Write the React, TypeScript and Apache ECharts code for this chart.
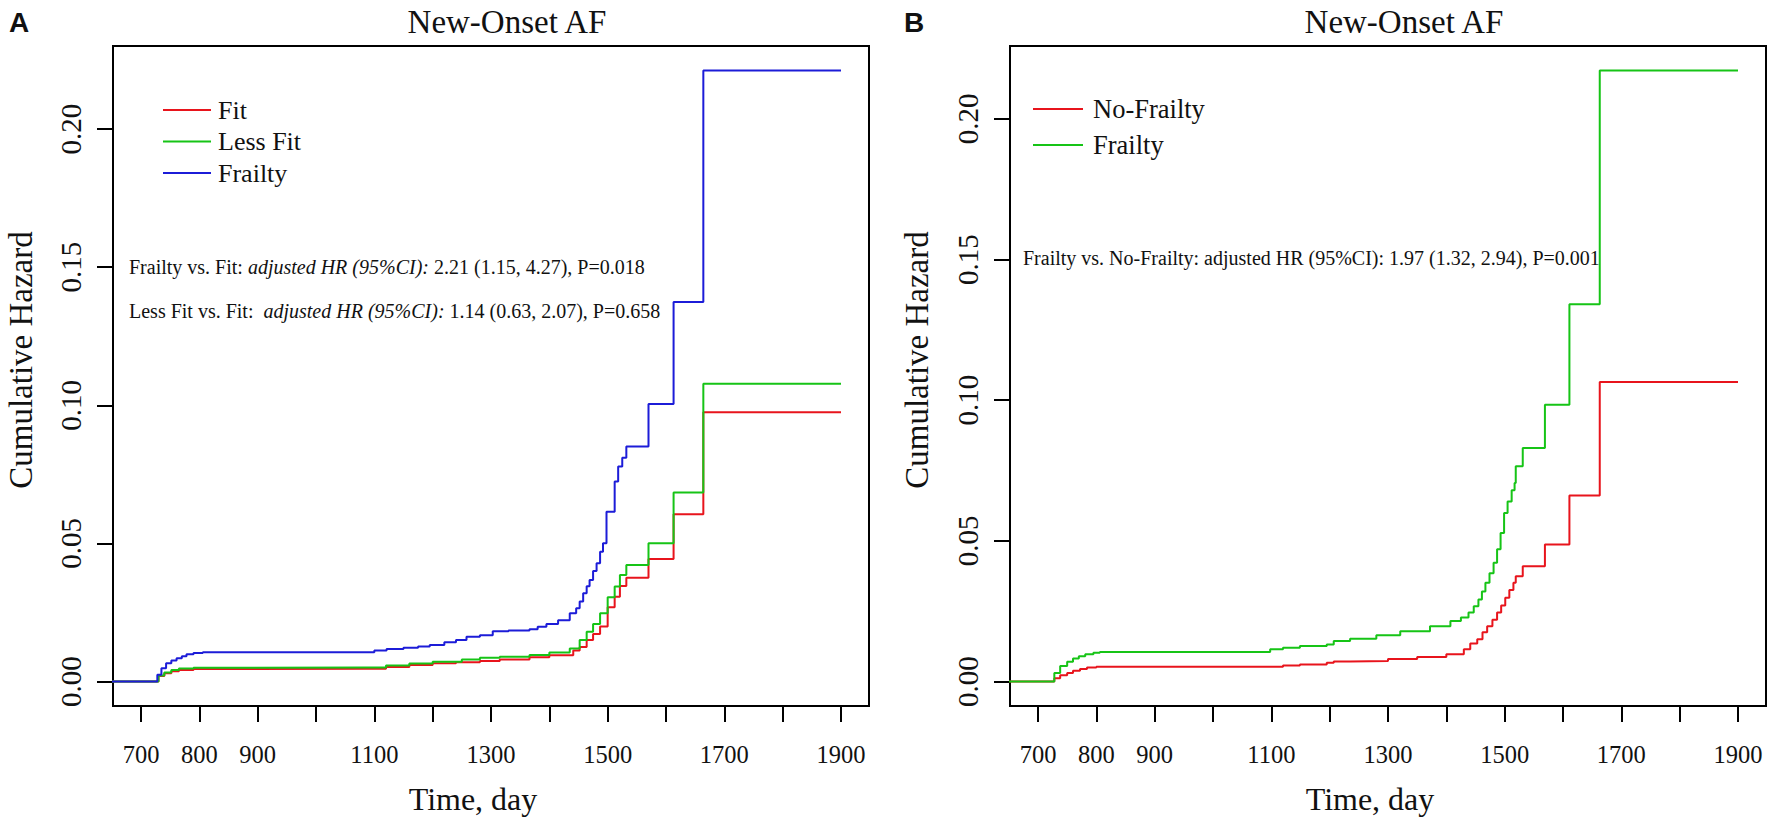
import React, { useEffect, useRef } from "react";
import * as echarts from "echarts";

// ---------------- data ----------------
const X_LIMITS = [700, 1900];
const X_TICKS = [700, 800, 900, 1000, 1100, 1200, 1300, 1400, 1500, 1600, 1700, 1800, 1900];
const X_TICK_LABELS = [700, 800, 900, 1100, 1300, 1500, 1700, 1900];
const Y_TICKS = [0, 0.05, 0.1, 0.15, 0.2];

// Panel A
const fitA: [number, number][] = [
  [0, 0], [720, 0], [730, 0.002], [740, 0.003], [752, 0.0037], [765, 0.0042], [790, 0.0045], [806, 0.0046],
  [1081, 0.0046], [1120, 0.0053], [1160, 0.006], [1200, 0.0066], [1240, 0.007], [1281, 0.0074], [1315, 0.008],
  [1366, 0.0088], [1400, 0.0095], [1441, 0.0112], [1452, 0.0125], [1464, 0.015], [1475, 0.0172], [1487, 0.0199],
  [1500, 0.0269], [1512, 0.0307], [1521, 0.0346], [1532, 0.0376], [1570, 0.0444], [1613, 0.0606], [1664, 0.0975],
  [1900, 0.0975],
];
const lessFitA: [number, number][] = [
  [0, 0], [720, 0], [730, 0.0022], [740, 0.0033], [752, 0.0042], [765, 0.0047], [790, 0.005], [806, 0.0051],
  [1081, 0.0051], [1120, 0.0058], [1160, 0.0065], [1200, 0.0072], [1250, 0.008], [1281, 0.0086], [1315, 0.009],
  [1366, 0.0096], [1400, 0.0105], [1435, 0.012], [1452, 0.015], [1464, 0.018], [1475, 0.0208], [1487, 0.0247],
  [1500, 0.0305], [1512, 0.0344], [1521, 0.0386], [1532, 0.0422], [1570, 0.0501], [1613, 0.0684], [1664, 0.1078],
  [1900, 0.1078],
];
const frailtyA: [number, number][] = [
  [0, 0], [720, 0], [728, 0.0025], [735, 0.0048], [743, 0.0066], [752, 0.0076], [761, 0.0084], [770, 0.0092],
  [778, 0.0099], [790, 0.0103], [806, 0.0106], [1081, 0.0106], [1100, 0.0112], [1121, 0.0118], [1150, 0.0122],
  [1175, 0.0127], [1195, 0.0132], [1220, 0.0142], [1240, 0.015], [1258, 0.0162], [1281, 0.0168], [1303, 0.0182],
  [1330, 0.0185], [1366, 0.0189], [1380, 0.0198], [1395, 0.0208], [1415, 0.0222], [1435, 0.0247], [1446, 0.0265],
  [1452, 0.029], [1458, 0.032], [1464, 0.0345], [1469, 0.0368], [1475, 0.04], [1481, 0.0428], [1487, 0.047],
  [1492, 0.0501], [1498, 0.0615], [1512, 0.0724], [1518, 0.0778], [1525, 0.081], [1532, 0.0851], [1570, 0.1005],
  [1613, 0.1374], [1664, 0.2212], [1900, 0.2212],
];

// Panel B
const noFrailtyB: [number, number][] = [
  [0, 0], [718, 0], [728, 0.0012], [738, 0.0022], [750, 0.003], [760, 0.0038], [772, 0.0045], [784, 0.005],
  [800, 0.0053], [1081, 0.0053], [1120, 0.0057], [1149, 0.0061], [1195, 0.0067], [1207, 0.0071], [1235, 0.0073],
  [1300, 0.008], [1350, 0.0087], [1400, 0.0097], [1430, 0.0115], [1441, 0.0135], [1453, 0.015], [1462, 0.0175],
  [1470, 0.0197], [1479, 0.022], [1487, 0.0245], [1494, 0.027], [1501, 0.0298], [1508, 0.0325], [1515, 0.0351],
  [1519, 0.0374], [1531, 0.041], [1569, 0.0487], [1611, 0.0661], [1663, 0.1065], [1900, 0.1065],
];
const frailtyB: [number, number][] = [
  [0, 0], [718, 0], [728, 0.003], [738, 0.0055], [750, 0.007], [760, 0.0082], [770, 0.009], [781, 0.0097],
  [795, 0.0102], [806, 0.0105], [1081, 0.0105], [1098, 0.0115], [1120, 0.012], [1149, 0.0126], [1195, 0.0132],
  [1207, 0.0144], [1235, 0.0152], [1280, 0.0165], [1321, 0.0179], [1372, 0.0197], [1407, 0.0215], [1425, 0.0228],
  [1438, 0.0245], [1447, 0.0268], [1455, 0.0292], [1461, 0.032], [1467, 0.0351], [1474, 0.0385], [1481, 0.0422],
  [1487, 0.047], [1493, 0.0528], [1499, 0.0599], [1505, 0.064], [1512, 0.068], [1517, 0.0706], [1519, 0.0765],
  [1531, 0.083], [1569, 0.0984], [1611, 0.1341], [1663, 0.2172], [1900, 0.2172],
];

const LEGEND_A = ["Fit", "Less Fit", "Frailty"];
const LEGEND_B = ["No-Frailty", "Frailty"];
const TITLE = "New-Onset AF";
const X_NAME = "Time, day";
const Y_NAME = "Cumulative Hazard";
const NOTE_A1 = "Frailty vs. Fit: {i|adjusted HR (95%CI):} 2.21 (1.15, 4.27), P=0.018";
const NOTE_A2 = "Less Fit vs. Fit:  {i|adjusted HR (95%CI):} 1.14 (0.63, 2.07), P=0.658";
const NOTE_B = "Frailty vs. No-Frailty: adjusted HR (95%CI): 1.97 (1.32, 2.94), P=0.001";

// ---------------- styling ----------------
const RED = "#E8141C";
const GREEN = "#16C416";
const BLUE = "#1C1CD8";
const INK = "#111";
const SERIF = "'Liberation Serif', 'Times New Roman', Times, serif";
const SANS = "'Liberation Sans', Arial, Helvetica, sans-serif";

const GRID_A = { left: 113, top: 46, width: 756, height: 660 };
const GRID_B = { left: 1010, top: 46, width: 756, height: 660 };

// R-style 4% axis expansion
const xPad = 0.04 * (X_LIMITS[1] - X_LIMITS[0]);
const X_MIN = X_LIMITS[0] - xPad;
const X_MAX = X_LIMITS[1] + xPad;
const maxOf = (arrs: [number, number][][]) => Math.max(...arrs.flat().map((p) => p[1]));
const yRange = (m: number) => [-0.04 * m, 1.04 * m];
const Y_A = yRange(maxOf([fitA, lessFitA, frailtyA]));
const Y_B = yRange(maxOf([noFrailtyB, frailtyB]));

function makeX(gridIndex: number) {
  return {
    type: "value",
    gridIndex,
    min: X_MIN,
    max: X_MAX,
    axisLine: { show: true, onZero: false, lineStyle: { color: "#000", width: 2 } },
    axisTick: { show: true, length: 16, customValues: X_TICKS, lineStyle: { color: "#000", width: 2 } },
    axisLabel: {
      customValues: X_TICK_LABELS,
      margin: 36,
      fontSize: 24.5,
      fontFamily: SERIF,
      color: INK,
      formatter: (v: number) => String(v),
    },
    splitLine: { show: false },
  };
}

function makeY(gridIndex: number, range: number[]) {
  return {
    type: "value",
    gridIndex,
    min: range[0],
    max: range[1],
    axisLine: { show: true, onZero: false, lineStyle: { color: "#000", width: 2 } },
    axisTick: { show: true, length: 16, customValues: Y_TICKS, lineStyle: { color: "#000", width: 2 } },
    axisLabel: {
      customValues: Y_TICKS,
      rotate: 90,
      margin: 28,
      fontSize: 29,
      fontFamily: SERIF,
      color: INK,
      formatter: (v: number) => v.toFixed(2),
    },
    splitLine: { show: false },
  };
}

function lineSeries(data: [number, number][], color: string, axis: number) {
  return {
    type: "line",
    xAxisIndex: axis,
    yAxisIndex: axis,
    data,
    step: "end",
    symbol: "none",
    showSymbol: false,
    clip: true,
    silent: true,
    lineStyle: { color, width: 2 },
    itemStyle: { color },
  };
}

function txt(
  x: number,
  y: number,
  text: string,
  fontSize: number,
  opts: { align?: string; family?: string; weight?: string; rotation?: number; rich?: any; vAlign?: string } = {}
) {
  const align = opts.align || "left";
  const vAlign = opts.vAlign || "middle";
  return {
    type: "text",
    x,
    y,
    rotation: opts.rotation || 0,
    silent: true,
    style: {
      text,
      fill: INK,
      fontSize,
      fontFamily: opts.family || SERIF,
      fontWeight: opts.weight || "normal",
      align,
      textAlign: align,
      verticalAlign: vAlign,
      textVerticalAlign: vAlign,
      rich: opts.rich,
    },
  };
}

function legendLine(x1: number, x2: number, y: number, color: string) {
  return {
    type: "line",
    silent: true,
    shape: { x1, y1: y, x2, y2: y },
    style: { stroke: color, lineWidth: 2 },
  };
}

const italicRich = {
  i: { fontStyle: "italic", fontSize: 20, fontFamily: SERIF, fill: INK },
};

const cxA = GRID_A.left + GRID_A.width / 2;
const cxB = GRID_B.left + GRID_B.width / 2;
const cyA = 360;

const graphic = [
  txt(9, 22, "A", 28, { family: SANS, weight: "bold" }),
  txt(904, 22, "B", 28, { family: SANS, weight: "bold" }),
  txt(cxA + 16, 21.5, TITLE, 33, { align: "center" }),
  txt(cxB + 16, 21.5, TITLE, 33, { align: "center" }),
  txt(cxA - 18, 799, X_NAME, 32, { align: "center" }),
  txt(cxB - 18, 799, X_NAME, 32, { align: "center" }),
  txt(21, cyA, Y_NAME, 33, { align: "center", rotation: Math.PI / 2 }),
  txt(916.5, cyA, Y_NAME, 33, { align: "center", rotation: Math.PI / 2 }),
  // legend A
  legendLine(163, 211, 110, RED),
  legendLine(163, 211, 141.5, GREEN),
  legendLine(163, 211, 173, BLUE),
  txt(218, 110, LEGEND_A[0], 26),
  txt(218, 141.5, LEGEND_A[1], 26),
  txt(218, 173, LEGEND_A[2], 26),
  // legend B
  legendLine(1033, 1083, 109, RED),
  legendLine(1033, 1083, 145, GREEN),
  txt(1093, 109, LEGEND_B[0], 26.5),
  txt(1093, 145, LEGEND_B[1], 26.5),
  // annotations
  txt(129, 266.5, NOTE_A1, 20, { rich: italicRich }),
  txt(129, 310.5, NOTE_A2, 20, { rich: italicRich }),
  txt(1023, 258.3, NOTE_B, 20),
];

const option = {
  animation: false,
  backgroundColor: "#fff",
  grid: [
    { ...GRID_A, show: true, borderColor: "#000", borderWidth: 2, containLabel: false },
    { ...GRID_B, show: true, borderColor: "#000", borderWidth: 2, containLabel: false },
  ],
  xAxis: [makeX(0), makeX(1)],
  yAxis: [makeY(0, Y_A), makeY(1, Y_B)],
  series: [
    lineSeries(fitA, RED, 0),
    lineSeries(lessFitA, GREEN, 0),
    lineSeries(frailtyA, BLUE, 0),
    lineSeries(noFrailtyB, RED, 1),
    lineSeries(frailtyB, GREEN, 1),
  ],
  graphic,
};

export default function App() {
  const ref = useRef<HTMLDivElement>(null);
  useEffect(() => {
    document.body.style.margin = "0";
    const chart = echarts.init(ref.current as HTMLDivElement, null, { renderer: "svg" });
    chart.setOption(option as any);
    return () => chart.dispose();
  }, []);
  return <div ref={ref} style={{ width: 1772, height: 824 }} />;
}
